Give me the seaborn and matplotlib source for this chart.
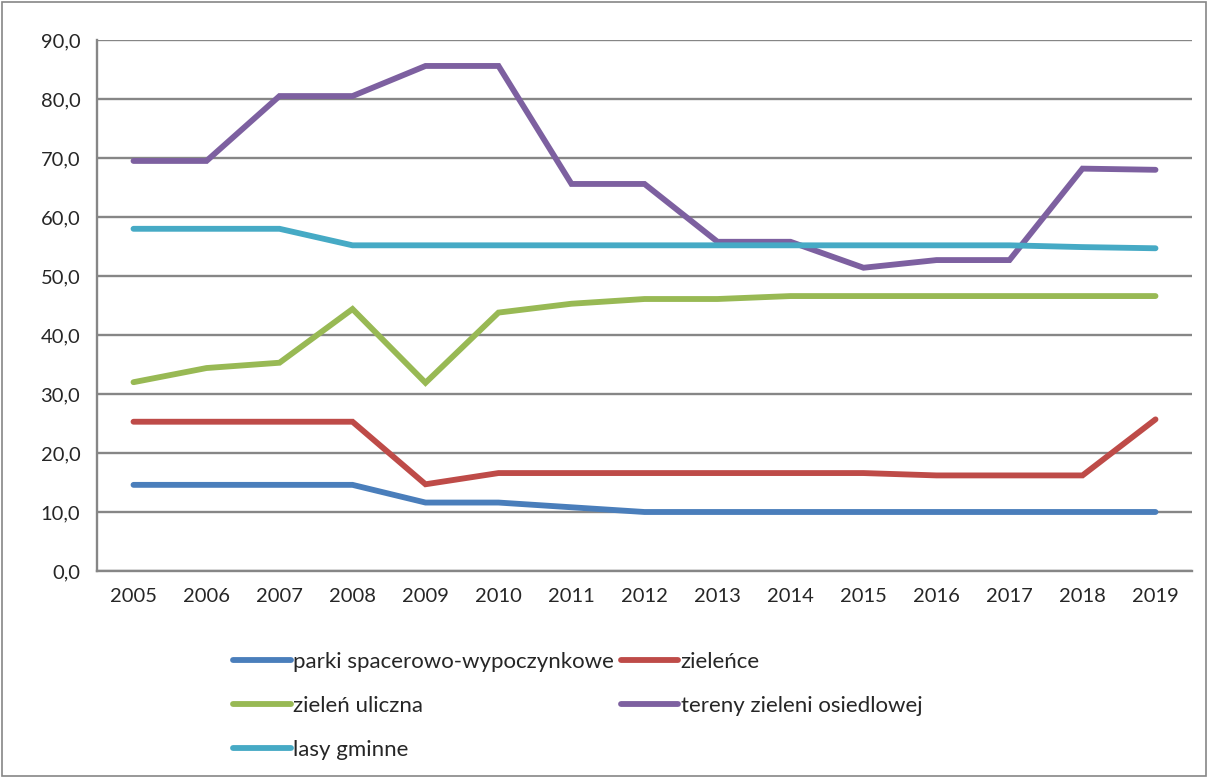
import matplotlib
matplotlib.use("Agg")
import matplotlib.pyplot as plt
import seaborn as sns
import pandas as pd
from matplotlib.patches import Rectangle

years = ["2005", "2006", "2007", "2008", "2009", "2010", "2011", "2012",
         "2013", "2014", "2015", "2016", "2017", "2018", "2019"]

parki = [14.6, 14.6, 14.6, 14.6, 11.6, 11.6, 10.8, 10.0, 10.0, 10.0, 10.0, 10.0, 10.0, 10.0, 10.0]
zielence = [25.3, 25.3, 25.3, 25.3, 14.7, 16.6, 16.6, 16.6, 16.6, 16.6, 16.6, 16.2, 16.2, 16.2, 25.7]
zielen_uliczna = [32.0, 34.4, 35.3, 44.4, 31.9, 43.8, 45.3, 46.1, 46.1, 46.6, 46.6, 46.6, 46.6, 46.6, 46.6]
tereny = [69.5, 69.5, 80.5, 80.5, 85.6, 85.6, 65.6, 65.6, 55.8, 55.8, 51.4, 52.7, 52.7, 68.2, 68.0]
lasy = [58.0, 58.0, 58.0, 55.2, 55.2, 55.2, 55.2, 55.2, 55.2, 55.2, 55.2, 55.2, 55.2, 54.9, 54.7]

series = {
    "parki spacerowo-wypoczynkowe": parki,
    "zieleńce": zielence,
    "zieleń uliczna": zielen_uliczna,
    "tereny zieleni osiedlowej": tereny,
    "lasy gminne": lasy,
}
colors = ["#4A7EBB", "#BE4B48", "#98B954", "#7D60A0", "#46AAC5"]

rows = []
for name, vals in series.items():
    for i, v in enumerate(vals):
        rows.append({"idx": i, "value": v, "seria": name})
df = pd.DataFrame(rows)

sns.set_style("white")
plt.rcParams["font.family"] = ["Lato", "DejaVu Sans"]

fig = plt.figure(figsize=(12.08, 7.78), dpi=100)
ax = fig.add_axes([97 / 1208, 1 - 571 / 778, 1095 / 1208, 531 / 778])

sns.lineplot(data=df, x="idx", y="value", hue="seria", palette=colors,
             linewidth=4.2, sort=False, ax=ax, legend=True,
             solid_capstyle="round", solid_joinstyle="miter")

ax.set_xlim(-0.5, 14.5)
ax.set_ylim(0, 90)
ax.set_yticks(range(0, 91, 10))
ax.set_yticklabels([f"{v},0" for v in range(0, 91, 10)], fontsize=14.5)
ax.set_xticks(range(15))
ax.set_xticklabels(years, fontsize=14.5)
ax.set_xticks([i - 0.5 for i in range(16)], minor=True)
ax.tick_params(axis="x", which="major", length=0, pad=12)
ax.tick_params(axis="x", which="minor", length=6, width=1.6, color="#868686", direction="out")
ax.tick_params(axis="y", length=6, width=1.6, color="#868686", direction="out", pad=6)
ax.set_xlabel("")
ax.set_ylabel("")
ax.grid(axis="y", color="#868686", linewidth=1.7)
ax.set_axisbelow(True)
for s in ["top", "right"]:
    ax.spines[s].set_visible(False)
for s in ["left", "bottom"]:
    ax.spines[s].set_color("#868686")
    ax.spines[s].set_linewidth(1.7)

# legend, row order like the original
handles, labels = ax.get_legend_handles_labels()
order = [0, 2, 4, 1, 3]
ax.get_legend().remove()
fig.legend([handles[i] for i in order], [labels[i] for i in order],
           loc="upper left", bbox_to_anchor=(222 / 1208, 1 - 641 / 778),
           ncol=2, frameon=False, fontsize=16, handlelength=2.6,
           handletextpad=0.1, columnspacing=0.3, labelspacing=1.07,
           borderpad=0)

# chart border
fig.patches.append(Rectangle((0.002, 0.002), 0.996, 0.996, transform=fig.transFigure,
                             fill=False, edgecolor="#868686", linewidth=1.2))

fig.savefig("out.png", dpi=100)
